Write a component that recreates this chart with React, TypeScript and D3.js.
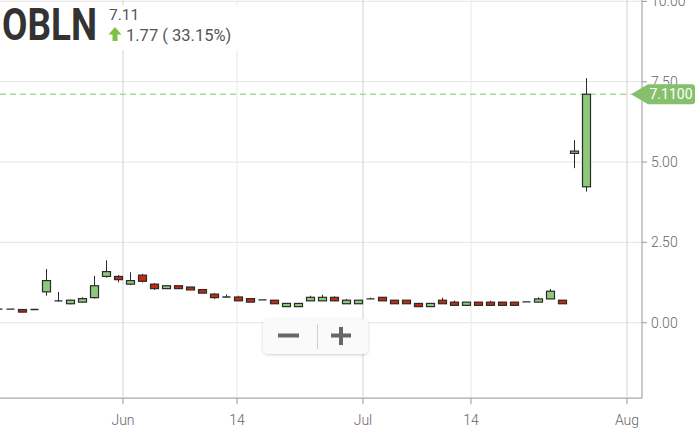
import * as d3 from 'd3';

// trading days, 2019-05-16 .. 2019-07-26
const dates = [
  '05-16', '05-17', '05-20', '05-21', '05-22', '05-23', '05-24', '05-28', '05-29', '05-30', '05-31',
  '06-03', '06-04', '06-05', '06-06', '06-07', '06-10', '06-11', '06-12', '06-13', '06-14',
  '06-17', '06-18', '06-19', '06-20', '06-21', '06-24', '06-25', '06-26', '06-27', '06-28',
  '07-01', '07-02', '07-03', '07-05', '07-08', '07-09', '07-10', '07-11', '07-12',
  '07-15', '07-16', '07-17', '07-18', '07-19', '07-22', '07-23', '07-24', '07-25', '07-26',
];
const opens = [
  0.42, 0.42, 0.41, 0.41, 0.96, 0.68, 0.59, 0.64, 0.78, 1.44, 1.44,
  1.20, 1.48, 1.20, 1.06, 1.15, 1.11, 1.03, 0.89, 0.80, 0.80,
  0.75, 0.71, 0.70, 0.50, 0.50, 0.68, 0.68, 0.79, 0.59, 0.59,
  0.74, 0.79, 0.70, 0.70, 0.60, 0.50, 0.70, 0.64, 0.54,
  0.64, 0.64, 0.64, 0.64, 0.65, 0.64, 0.74, 0.70, 5.27, 4.23,
];
const highs = [
  0.42, 0.42, 0.42, 0.41, 1.67, 0.96, 0.72, 0.79, 1.46, 1.94, 1.48,
  1.57, 1.52, 1.23, 1.15, 1.15, 1.11, 1.03, 0.92, 0.88, 0.84,
  0.75, 0.71, 0.70, 0.60, 0.60, 0.84, 0.87, 0.82, 0.74, 0.70,
  0.78, 0.79, 0.70, 0.70, 0.60, 0.60, 0.78, 0.69, 0.64,
  0.64, 0.68, 0.64, 0.64, 0.65, 0.79, 1.05, 0.70, 5.68, 7.61,
];
const lows = [
  0.42, 0.42, 0.32, 0.41, 0.84, 0.66, 0.57, 0.63, 0.75, 1.40, 1.26,
  1.17, 1.25, 1.02, 1.06, 1.06, 1.02, 0.92, 0.74, 0.80, 0.68,
  0.64, 0.71, 0.59, 0.50, 0.50, 0.68, 0.68, 0.68, 0.59, 0.59,
  0.74, 0.68, 0.59, 0.59, 0.50, 0.50, 0.59, 0.54, 0.54,
  0.54, 0.54, 0.54, 0.54, 0.65, 0.64, 0.74, 0.59, 4.81, 4.08,
];
const closes = [
  0.42, 0.42, 0.33, 0.41, 1.31, 0.68, 0.70, 0.75, 1.15, 1.59, 1.34,
  1.31, 1.29, 1.06, 1.15, 1.06, 1.02, 0.92, 0.78, 0.80, 0.68,
  0.64, 0.71, 0.59, 0.60, 0.60, 0.79, 0.79, 0.68, 0.70, 0.70,
  0.74, 0.68, 0.59, 0.59, 0.50, 0.60, 0.59, 0.54, 0.64,
  0.54, 0.54, 0.54, 0.54, 0.65, 0.74, 0.98, 0.59, 5.34, 7.11,
];

const yTicks = [0, 2.5, 5, 7.5, 10];
// x tick positions, in trading-day index (between days where the date falls on a gap)
const xTickLabels = ['Jun', '14', 'Jul', '14', 'Aug'];
const xTickPos = [10.44, 19.94, 30.44, 39.44, 52.44];
const xTickMajor = [true, false, true, false, true];

const symbol = 'OBLN';
const lastPrice = 7.11;
const change = 1.77;
const changePct = 33.15;

const FONT = 'Roboto, "Noto Sans", sans-serif';
const GREEN = '#8dc97a';
const RED = '#c42a0c';
const OUTLINE = '#2b2b2b';

export default function App() {
  const W = 698;
  const H = 436;
  const plotRight = 642;
  const plotBottom = 398.2;

  const x = d3.scaleLinear().domain([0.19, 53.69]).range([0, plotRight]);
  const y = d3.scaleLinear().domain([-2.35, 10]).range([plotBottom, 1.4]);
  const bodyW = 8;

  const candles = dates.map((d, i) => ({
    d, i, o: opens[i], h: highs[i], l: lows[i], c: closes[i],
  }));

  const py = y(lastPrice);

  return (
    <div style={{ position: 'fixed', left: 0, top: 0, width: W, height: H, background: '#fff' }}>
      <svg width={W} height={H} style={{ display: 'block', fontFamily: FONT }}>
        <defs>
          <clipPath id="plot">
            <rect x={0} y={0} width={plotRight} height={plotBottom} />
          </clipPath>
          <filter id="shadow" x="-20%" y="-30%" width="140%" height="170%">
            <feDropShadow dx="0" dy="1" stdDeviation="1.5" floodColor="#000" floodOpacity="0.18" />
          </filter>
        </defs>

        {/* grid */}
        <g>
          {yTicks.map(t => (
            <line key={'gy' + t} x1={0} x2={plotRight} y1={y(t)} y2={y(t)} stroke="#e9e9e9" strokeWidth={1.2} />
          ))}
          {xTickPos.map((p, k) => (
            <line key={'gx' + k} x1={x(p)} x2={x(p)} y1={0} y2={plotBottom}
              stroke={xTickMajor[k] ? '#d9d9d9' : '#ececec'} strokeWidth={1.2} />
          ))}
        </g>

        {/* last price line */}
        <line x1={0} x2={631} y1={py} y2={py} stroke="#a9d99c" strokeWidth={1.4} strokeDasharray="6 4" />

        {/* candles */}
        <g clipPath="url(#plot)">
          {candles.map(c => {
            const cx = Math.round(x(c.i)) + 0.5;
            const up = c.c >= c.o;
            const top = y(Math.max(c.o, c.c));
            const bot = y(Math.min(c.o, c.c));
            const doji = Math.abs(c.c - c.o) < 0.005;
            return (
              <g key={c.d}>
                {c.h > c.l && (
                  <line x1={cx} x2={cx} y1={y(c.h)} y2={y(c.l)} stroke={OUTLINE} strokeWidth={1} />
                )}
                {doji ? (
                  <line x1={cx - bodyW / 2} x2={cx + bodyW / 2} y1={top} y2={top} stroke={OUTLINE} strokeWidth={1.3} />
                ) : (
                  <rect x={cx - bodyW / 2} y={top} width={bodyW} height={Math.max(1, bot - top)}
                    fill={up ? GREEN : RED} stroke={OUTLINE} strokeWidth={1.2} />
                )}
              </g>
            );
          })}
        </g>

        {/* axes */}
        <line x1={plotRight} x2={plotRight} y1={0} y2={plotBottom} stroke="#a8a8a8" strokeWidth={1.2} />
        <line x1={0} x2={plotRight} y1={plotBottom} y2={plotBottom} stroke="#a8a8a8" strokeWidth={1.2} />
        {yTicks.map(t => (
          <g key={'ty' + t}>
            <line x1={plotRight} x2={plotRight + 5} y1={y(t)} y2={y(t)} stroke="#a8a8a8" strokeWidth={1.2} />
            <text x={651} y={y(t)} dy="0.35em" fontSize={14} fill="#666" fontWeight={300}>
              {d3.format('.2f')(t)}
            </text>
          </g>
        ))}
        {xTickPos.map((p, k) => (
          <g key={'tx' + k}>
            <line x1={x(p)} x2={x(p)} y1={plotBottom} y2={plotBottom + 6} stroke="#a8a8a8" strokeWidth={1.2} />
            <text x={x(p)} y={425} textAnchor="middle" fontSize={14} fill="#666" fontWeight={300}>
              {xTickLabels[k]}
            </text>
          </g>
        ))}

        {/* price tag */}
        <path
          d={`M631,${py} L648,${py - 10} L692,${py - 10} Q695,${py - 10} 695,${py - 7} L695,${py + 7} Q695,${py + 10} 692,${py + 10} L648,${py + 10} Z`}
          fill="#86c06d"
        />
        <text x={671} y={py} dy="0.36em" textAnchor="middle" fontSize={14} fill="#fff">
          {d3.format('.4f')(lastPrice)}
        </text>

        {/* header */}
        <rect x={0} y={5} width={250} height={45} fill="#fff" />
        <text x={2} y={40} fontSize={44} fontWeight={700} fill="#333" textLength={95} lengthAdjust="spacingAndGlyphs">
          {symbol}
        </text>
        <text x={109} y={19.5} fontSize={15.5} fill="#555">{lastPrice.toFixed(2)}</text>
        <path d="M115,27 L121.5,34.5 L117.5,34.5 L117.5,41 L112.5,41 L112.5,34.5 L108.5,34.5 Z" fill="#7cc242" />
        <text x={126} y={41} fontSize={16.5} fill="#555">
          {`${change.toFixed(2)} ( ${changePct.toFixed(2)}%)`}
        </text>

        {/* zoom control */}
        <g>
          <rect x={263} y={319} width={105} height={35} rx={5} fill="#fafafa" filter="url(#shadow)" />
          <line x1={317.5} x2={317.5} y1={324} y2={349} stroke="#cfcfcf" strokeWidth={1} />
          <rect x={278} y={333.5} width={21} height={4} fill="#666" />
          <rect x={331} y={333.5} width={20} height={4} fill="#666" />
          <rect x={339} y={327} width={4} height={18} fill="#666" />
        </g>
      </svg>
    </div>
  );
}
